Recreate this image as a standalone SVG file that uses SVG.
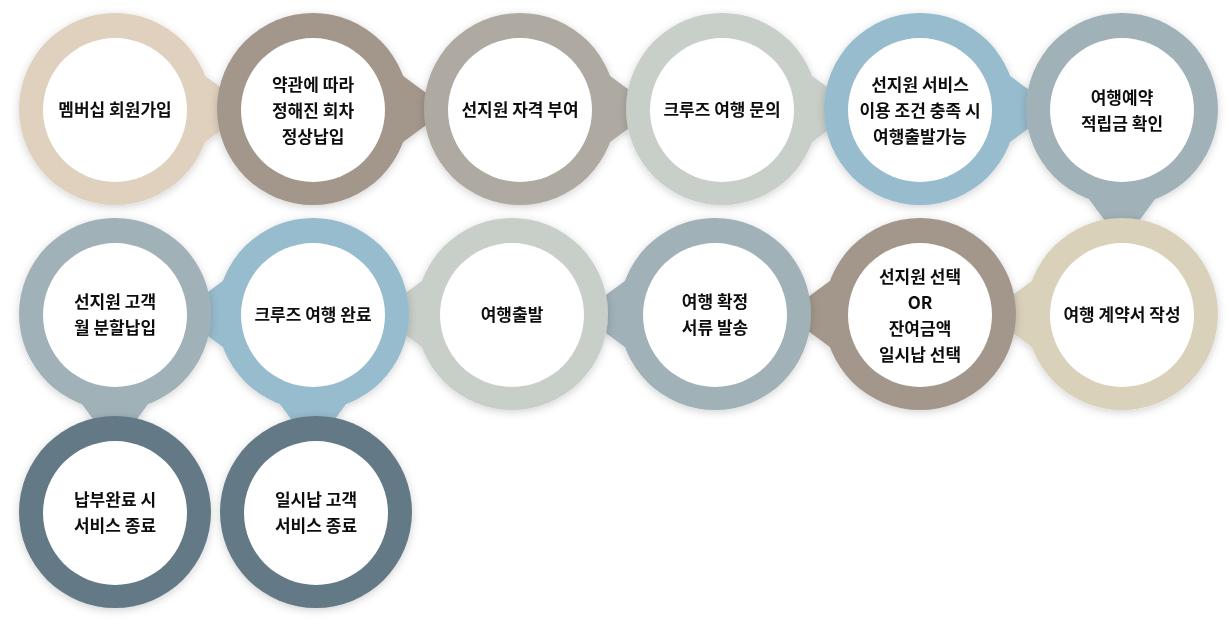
<svg xmlns="http://www.w3.org/2000/svg" xmlns:xlink="http://www.w3.org/1999/xlink" width="1229" height="624" viewBox="0 0 1229 624">
<style>
text{font-family:"Noto Sans CJK KR","Noto Sans",sans-serif;font-weight:700;font-size:17px;fill:#111;text-anchor:middle}
.in{fill:#fff}
</style>
<defs>
<filter id="sh" x="-30%" y="-30%" width="160%" height="160%"><feDropShadow dx="0" dy="2" stdDeviation="4" flood-color="#000" flood-opacity="0.18"/></filter>
<path id="tail" d="M40,-70 L135,0 L40,70 Z"/>
</defs>
<rect width="1229" height="624" fill="#fff"/>
<g id="connectors"></g>
<g id="n1" filter="url(#sh)"><use xlink:href="#tail" transform="translate(115,109)" fill="#dfd1bd"/><circle cx="115" cy="109" r="96" fill="#dfd1bd"/><circle class="in" cx="115" cy="110" r="72"/><text x="115" y="116">멤버십 회원가입</text></g>
<g id="n2" filter="url(#sh)"><use xlink:href="#tail" transform="translate(313,109)" fill="#a3978b"/><circle cx="313" cy="109" r="96" fill="#a3978b"/><circle class="in" cx="313" cy="110" r="72"/><text x="313" y="91">약관에 따라</text><text x="313" y="117">정해진 회차</text><text x="313" y="143">정상납입</text></g>
<g id="n3" filter="url(#sh)"><use xlink:href="#tail" transform="translate(520,109)" fill="#aeaaa2"/><circle cx="520" cy="109" r="96" fill="#aeaaa2"/><circle class="in" cx="520" cy="110" r="72"/><text x="520" y="116">선지원 자격 부여</text></g>
<g id="n4" filter="url(#sh)"><use xlink:href="#tail" transform="translate(722,109)" fill="#c8cfc8"/><circle cx="722" cy="109" r="96" fill="#c8cfc8"/><circle class="in" cx="722" cy="110" r="72"/><text x="722" y="116">크루즈 여행 문의</text></g>
<g id="n5" filter="url(#sh)"><use xlink:href="#tail" transform="translate(920,109)" fill="#97bccd"/><circle cx="920" cy="109" r="96" fill="#97bccd"/><circle class="in" cx="920" cy="110" r="72"/><text x="920" y="91">선지원 서비스</text><text x="920" y="117">이용 조건 충족 시</text><text x="920" y="143">여행출발가능</text></g>
<g id="n6" filter="url(#sh)"><use xlink:href="#tail" transform="translate(1122,109) rotate(90)" fill="#a1b1b8"/><circle cx="1122" cy="109" r="96" fill="#a1b1b8"/><circle class="in" cx="1122" cy="110" r="72"/><text x="1122" y="104">여행예약</text><text x="1122" y="130">적립금 확인</text></g>
<g id="n12" filter="url(#sh)"><use xlink:href="#tail" transform="translate(1122,314) rotate(180)" fill="#d9d1b9"/><circle cx="1122" cy="314" r="96" fill="#d9d1b9"/><circle class="in" cx="1122" cy="315" r="72"/><text x="1122" y="321">여행 계약서 작성</text></g>
<g id="n11" filter="url(#sh)"><use xlink:href="#tail" transform="translate(920,314) rotate(180)" fill="#a3978b"/><circle cx="920" cy="314" r="96" fill="#a3978b"/><circle class="in" cx="920" cy="315" r="72"/><text x="920" y="283">선지원 선택</text><text x="920" y="309">OR</text><text x="920" y="335">잔여금액</text><text x="920" y="361">일시납 선택</text></g>
<g id="n10" filter="url(#sh)"><use xlink:href="#tail" transform="translate(715,314) rotate(180)" fill="#a1b1b8"/><circle cx="715" cy="314" r="96" fill="#a1b1b8"/><circle class="in" cx="715" cy="315" r="72"/><text x="715" y="308">여행 확정</text><text x="715" y="334">서류 발송</text></g>
<g id="n9" filter="url(#sh)"><use xlink:href="#tail" transform="translate(512,314) rotate(180)" fill="#c8cfc8"/><circle cx="512" cy="314" r="96" fill="#c8cfc8"/><circle class="in" cx="512" cy="315" r="72"/><text x="512" y="321">여행출발</text></g>
<g id="n8" filter="url(#sh)"><use xlink:href="#tail" transform="translate(313,314) rotate(180)" fill="#97bccd"/><use xlink:href="#tail" transform="translate(313,314) rotate(90)" fill="#97bccd"/><circle cx="313" cy="314" r="96" fill="#97bccd"/><circle class="in" cx="313" cy="315" r="72"/><text x="313" y="321">크루즈 여행 완료</text></g>
<g id="n7" filter="url(#sh)"><use xlink:href="#tail" transform="translate(115,314) rotate(90)" fill="#a1b1b8"/><circle cx="115" cy="314" r="96" fill="#a1b1b8"/><circle class="in" cx="115" cy="315" r="72"/><text x="115" y="308">선지원 고객</text><text x="115" y="334">월 분할납입</text></g>
<g id="n13" filter="url(#sh)"><circle cx="115" cy="512" r="96" fill="#637985"/><circle class="in" cx="115" cy="513" r="72"/><text x="115" y="506">납부완료 시</text><text x="115" y="532">서비스 종료</text></g>
<g id="n14" filter="url(#sh)"><circle cx="316" cy="512" r="96" fill="#637985"/><circle class="in" cx="316" cy="513" r="72"/><text x="316" y="506">일시납 고객</text><text x="316" y="532">서비스 종료</text></g>
</svg>
